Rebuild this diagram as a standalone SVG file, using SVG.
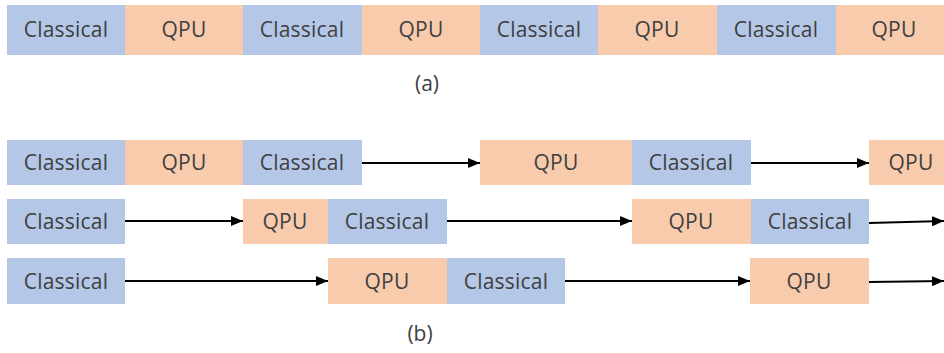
<svg xmlns="http://www.w3.org/2000/svg" width="944" height="353" viewBox="0 0 944 353">
  <style>
    .cls { fill: #B4C7E7; }
    .qpu { fill: #F8CBAD; }
    .lbl { font-family: "Open Sans", "Liberation Sans", sans-serif; font-size: 21px; fill: #3F3F3F; text-anchor: middle; letter-spacing: 0.2px; }
    .cap { font-family: "Open Sans", "Liberation Sans", sans-serif; font-size: 21px; fill: #3F3F3F; text-anchor: middle; }
    .arr { stroke: #000; stroke-width: 2; fill: none; marker-end: url(#head); }
  </style>
  <defs>
    <marker id="head" viewBox="0 0 12 10" refX="12" refY="5" markerWidth="12" markerHeight="10" markerUnits="userSpaceOnUse" orient="auto">
      <path d="M0,0 L12,5 L0,10 Z" fill="#000"/>
    </marker>
  </defs>
  <rect width="944" height="353" fill="#fff"/>

  <!-- (a) sequential execution -->
  <g id="a-c1"><rect class="cls" x="7" y="5" width="118" height="50"/><text class="lbl" x="66" y="37">Classical</text></g>
  <g id="a-q1"><rect class="qpu" x="125" y="5" width="118" height="50"/><text class="lbl" x="184" y="37">QPU</text></g>
  <g id="a-c2"><rect class="cls" x="243" y="5" width="119" height="50"/><text class="lbl" x="302" y="37">Classical</text></g>
  <g id="a-q2"><rect class="qpu" x="362" y="5" width="118" height="50"/><text class="lbl" x="421" y="37">QPU</text></g>
  <g id="a-c3"><rect class="cls" x="480" y="5" width="118" height="50"/><text class="lbl" x="539" y="37">Classical</text></g>
  <g id="a-q3"><rect class="qpu" x="598" y="5" width="119" height="50"/><text class="lbl" x="657" y="37">QPU</text></g>
  <g id="a-c4"><rect class="cls" x="717" y="5" width="119" height="50"/><text class="lbl" x="776" y="37">Classical</text></g>
  <g id="a-q4"><rect class="qpu" x="836" y="5" width="108" height="50"/><text class="lbl" x="894" y="37">QPU</text></g>
  <text class="cap" x="427" y="91">(a)</text>

  <!-- (b) row 1 -->
  <g id="b1-c1"><rect class="cls" x="7" y="140" width="118" height="45"/><text class="lbl" x="66" y="170">Classical</text></g>
  <g id="b1-q1"><rect class="qpu" x="125" y="140" width="118" height="45"/><text class="lbl" x="184" y="170">QPU</text></g>
  <g id="b1-c2"><rect class="cls" x="243" y="140" width="119" height="45"/><text class="lbl" x="302" y="170">Classical</text></g>
  <g id="b1-q2"><rect class="qpu" x="480" y="140" width="152" height="45"/><text class="lbl" x="556" y="170">QPU</text></g>
  <g id="b1-c3"><rect class="cls" x="632" y="140" width="119" height="45"/><text class="lbl" x="691" y="170">Classical</text></g>
  <g id="b1-q3"><rect class="qpu" x="869" y="140" width="75" height="45"/><text class="lbl" x="911" y="170">QPU</text></g>

  <!-- (b) row 2 -->
  <g id="b2-c1"><rect class="cls" x="7" y="199" width="118" height="45"/><text class="lbl" x="66" y="229">Classical</text></g>
  <g id="b2-q1"><rect class="qpu" x="243" y="199" width="85" height="45"/><text class="lbl" x="285" y="229">QPU</text></g>
  <g id="b2-c2"><rect class="cls" x="328" y="199" width="119" height="45"/><text class="lbl" x="387" y="229">Classical</text></g>
  <g id="b2-q2"><rect class="qpu" x="632" y="199" width="119" height="45"/><text class="lbl" x="691" y="229">QPU</text></g>
  <g id="b2-c3"><rect class="cls" x="751" y="199" width="118" height="45"/><text class="lbl" x="810" y="229">Classical</text></g>

  <!-- (b) row 3 -->
  <g id="b3-c1"><rect class="cls" x="7" y="258" width="118" height="46"/><text class="lbl" x="66" y="289">Classical</text></g>
  <g id="b3-q1"><rect class="qpu" x="328" y="258" width="119" height="46"/><text class="lbl" x="387" y="289">QPU</text></g>
  <g id="b3-c2"><rect class="cls" x="447" y="258" width="118" height="46"/><text class="lbl" x="506" y="289">Classical</text></g>
  <g id="b3-q2"><rect class="qpu" x="750" y="258" width="119" height="46"/><text class="lbl" x="809" y="289">QPU</text></g>
  <text class="cap" x="420" y="341">(b)</text>

  <!-- connectors -->
  <g id="connectors">
    <line class="arr" x1="362" y1="163" x2="480" y2="163"/>
    <line class="arr" x1="751" y1="163" x2="869" y2="163"/>
    <line class="arr" x1="125" y1="221" x2="243" y2="221"/>
    <line class="arr" x1="447" y1="221" x2="632" y2="221"/>
    <line class="arr" x1="869" y1="223" x2="944" y2="221"/>
    <line class="arr" x1="125" y1="281" x2="328" y2="281"/>
    <line class="arr" x1="565" y1="281" x2="750" y2="281"/>
    <line class="arr" x1="869" y1="282" x2="944" y2="281"/>
  </g>
</svg>
